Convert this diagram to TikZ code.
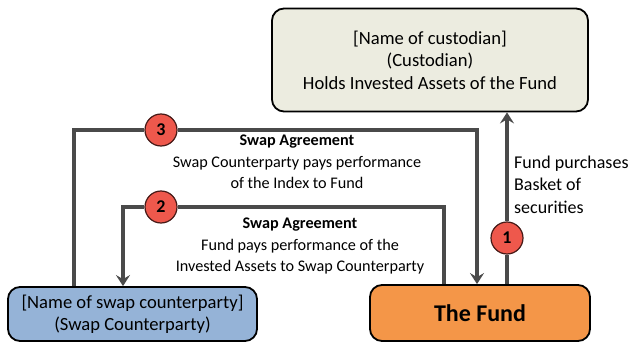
\documentclass[tikz,border=0pt]{standalone}
\usepackage{fontspec}
\setmainfont{Carlito}
\usetikzlibrary{arrows.meta,backgrounds}
\definecolor{custfill}{RGB}{236,236,224}
\definecolor{swapfill}{RGB}{149,179,215}
\definecolor{fundfill}{RGB}{244,150,72}
\definecolor{stepfill}{RGB}{238,88,76}
\definecolor{linegray}{RGB}{74,74,74}
\begin{document}
\begin{tikzpicture}[x=1pt,y=-1pt]
		\tikzstyle{every node}+=[inner sep=0pt]
		\tikzstyle{party}=[draw=black,line width=1.8pt,rounded corners=12pt,align=center]
		\tikzstyle{conn}=[draw=linegray,line width=3.7pt]
		\tikzstyle{tip}=[-{Stealth[length=11pt,width=14pt,inset=4pt]}]
		\tikzstyle{stepnum}=[circle,draw=black!70!stepfill,line width=1.2pt,fill=stepfill,minimum size=32pt,font=\bfseries\fontsize{18}{18}\selectfont]
		\tikzstyle{note}=[align=center,font=\fontsize{16.2}{21.5}\selectfont]
		\useasboundingbox (0,0) rectangle (630,342);
		\node [party,fill=custfill,minimum width=316pt,minimum height=103pt,font=\fontsize{18.6}{22.5}\selectfont] (cust) at (430,60) {[Name of custodian]\\(Custodian)\\Holds Invested Assets of the Fund};
		\node [party,fill=fundfill,minimum width=220pt,minimum height=56pt,font=\bfseries\fontsize{24}{24}\selectfont] (fund) at (480,313) {The Fund};
		\node [party,fill=swapfill,minimum width=249pt,minimum height=54pt,font=\fontsize{18.6}{22}\selectfont] (swap) at (132.5,314) {[Name of swap counterparty]\\(Swap Counterparty)};
		\node [stepnum] (one) at (507,238) {1};
		\node [stepnum] (two) at (161,207) {2};
		\node [stepnum] (three) at (161,130) {3};
		\coordinate (l3) at (74,130);
		\coordinate (r3) at (477,130);
		\coordinate (l2) at (123,207);
		\coordinate (r2) at (444,207);
		\begin{scope}[on background layer]
		\draw [conn,tip] (fund.north -| one) -- (one) -- (cust.south -| one);
		\draw [conn,tip] (fund.north -| r2) |- (two) -- (l2) -- (swap.north -| l2);
		\draw [conn,tip] (swap.north -| l3) |- (three) -- (r3) -- (fund.north -| r3);
		\end{scope}
		\node [note] (agree3) at (297,162) {\textbf{Swap Agreement}\\Swap Counterparty pays performance\\of the Index to Fund};
		\node [note] (agree2) at (300,246) {\textbf{Swap Agreement}\\Fund pays performance of the\\Invested Assets to Swap Counterparty};
		\node [note,align=left,anchor=west,font=\fontsize{18}{22.5}\selectfont] (buy) at (514,184.5) {Fund purchases\\Basket of\\securities};
\end{tikzpicture}
\end{document}
